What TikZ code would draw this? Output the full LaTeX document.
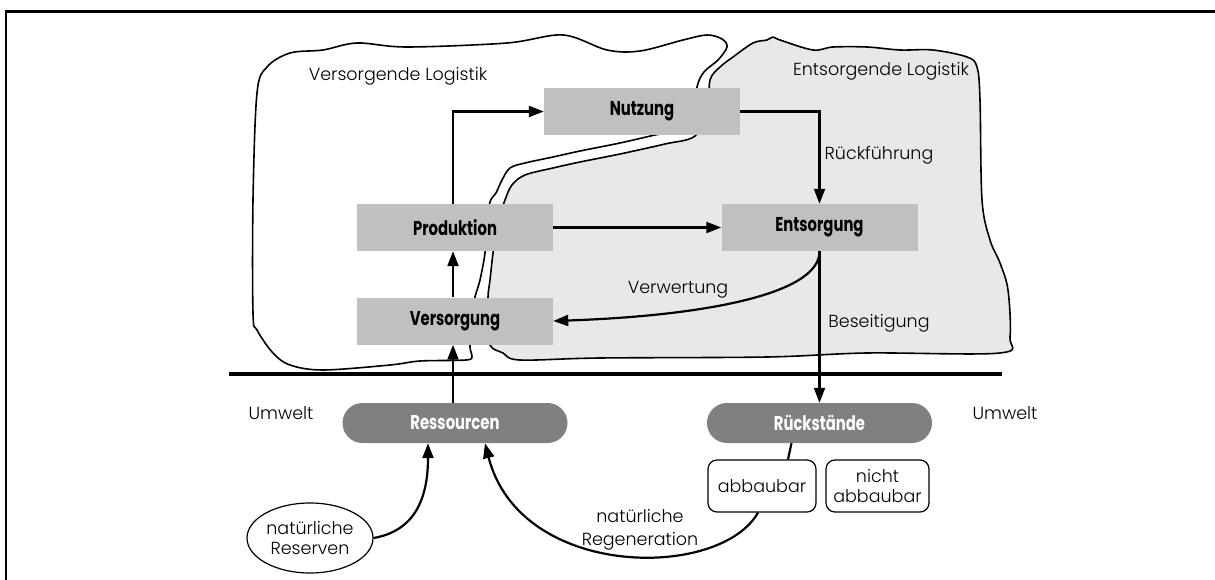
\documentclass[tikz,border=0pt]{standalone}
\usepackage{fontspec}
\setmainfont{Poppins}[UprightFont=* Light]
\newfontfamily\boxfont{Poppins}[UprightFont=* Bold, FakeStretch=0.74]
\usetikzlibrary{arrows.meta,shapes.geometric,calc}

\definecolor{stagegray}{HTML}{C0C0C0}
\definecolor{poolgray}{HTML}{808080}
\definecolor{zonegray}{HTML}{E8E8E8}

\begin{document}
\begin{tikzpicture}[x=1pt,y=-1pt,
  stage/.style={fill=stagegray, minimum width=196pt, minimum height=47pt,
    inner sep=0pt, font=\boxfont\fontsize{20}{22}\selectfont},
  pool/.style={fill=poolgray, rounded corners=20pt, minimum width=225pt,
    minimum height=40pt, inner sep=0pt, text=white,
    font=\boxfont\fontsize{20}{22}\selectfont},
  tag/.style={draw, rounded corners=9pt, line width=1.2pt, minimum height=52pt,
    inner sep=0pt, align=center, font=\fontsize{17.5}{24}\selectfont},
  lbl/.style={font=\fontsize{17.5}{24}\selectfont, align=center, inner sep=0pt},
  flow/.style={line width=2.2pt, -{Triangle[length=15pt,width=11pt]}},
  link/.style={line width=2.2pt},
  zone/.style={line width=1.6pt, line join=round}]

\useasboundingbox (0,0) rectangle (1215,580);

% disposal zone (filled)
\draw[zone, fill=zonegray] plot[smooth cycle, tension=0.55] coordinates {
  (753,43) (767,40) (773,37) (780,40) (813,50) (833,47) (867,47) (900,50)
  (933,50) (967,57) (977,67) (980,100) (982,200) (990,240) (1000,263)
  (1008,290) (1010,337) (1000,353) (867,353) (767,357) (600,358) (520,360)
  (503,353) (490,345) (489,320) (488,297) (490,280) (493,253) (497,225)
  (505,200) (512,185) (525,175) (553,168) (580,162) (620,154) (665,144)
  (695,136) (708,110) (710,80) (720,67) (733,57)};

% supply zone (outline only)
\draw[zone] plot[smooth cycle, tension=0.55] coordinates {
  (253,313) (253,200) (257,93) (267,67) (290,53) (323,50) (357,43) (407,47)
  (507,43) (563,35) (607,50) (640,51) (683,40) (707,35) (722,39) (727,47)
  (718,60) (704,72) (697,87) (694,115) (680,130) (655,135) (620,143) (580,151)
  (553,157) (525,163) (510,168) (502,180) (496,193) (490,202) (487,225)
  (485,253) (480,280) (475,297) (471,320) (470,347) (472,356) (466,360)
  (420,361) (390,365) (323,370) (290,365) (273,353) (257,330)};

% frame and environment boundary
\draw[line width=2.8pt] (6,580) -- (6,11.5) -- (1215,11.5);
\draw[line width=4.5pt] (229,374) -- (1002,374);

% zone titles
\node[lbl] (zv) at (398,76) {Versorgende Logistik};
\node[lbl] (ze) at (881,71) {Entsorgende Logistik};

% stages
\node[stage] (nutz) at (642,111.5) {Nutzung};
\node[stage] (prod) at (455,227.5) {Produktion};
\node[stage] (vers) at (455,321) {Versorgung};
\node[stage] (ents) at (819.5,227.5) {Entsorgung};

% environment
\node[pool] (ress) at (455,423) {Ressourcen};
\node[pool] (rueck) at (819.5,423) {Rückstände};
\node[lbl] (uml) at (281,413) {Umwelt};
\node[lbl] (umr) at (1005,413) {Umwelt};
\node[tag, minimum width=108pt] (abb) at (762,486) {abbaubar};
\node[tag, minimum width=103pt] (nabb) at (877.5,486) {nicht\\[-4pt]abbaubar};
\node[draw, ellipse, line width=1.2pt, minimum width=126pt, minimum height=70pt,
  inner sep=0pt, align=center, font=\fontsize{17.5}{24}\selectfont] (res)
  at (310,538) {natürliche\\[-4pt]Reserven};

% flows
\draw[flow] ($(prod.north)+(-2,0)$) |- (nutz.west);
\draw[flow] (nutz.east) -| (ents.north);
\draw[flow] (prod.east) -- (ents.west);
\draw[flow] ($(vers.north)+(-2,0)$) -- ($(prod.south)+(-2,0)$);
\draw[flow] ($(ress.north)+(-2,0)$) -- ($(vers.south)+(-2,0)$);
\draw[flow] (ents.south) .. controls (820,295) and (700,316) .. (vers.east);
\draw[flow] (ents.south) -- (rueck.north);
\draw[link] ($(rueck.south)+(-28,0)$) -- ($(abb.north)+(26,0)$);
\draw[flow] ($(abb.south)+(-4,0)$) .. controls (720,580) and (520,580) ..
  ($(ress.south)+(30,0)$);
\draw[flow] (res.east) .. controls (420,530) and (428,490) ..
  ($(ress.south)+(-27,0)$);

% flow labels
\node[lbl] (lr) at (879,155) {Rückführung};
\node[lbl] (lv) at (678,290) {Verwertung};
\node[lbl] (lb) at (879,323) {Beseitigung};
\node[lbl, font=\fontsize{17.5}{23}\selectfont] (lg) at (640,530)
  {natürliche\\Regeneration};
\end{tikzpicture}
\end{document}
